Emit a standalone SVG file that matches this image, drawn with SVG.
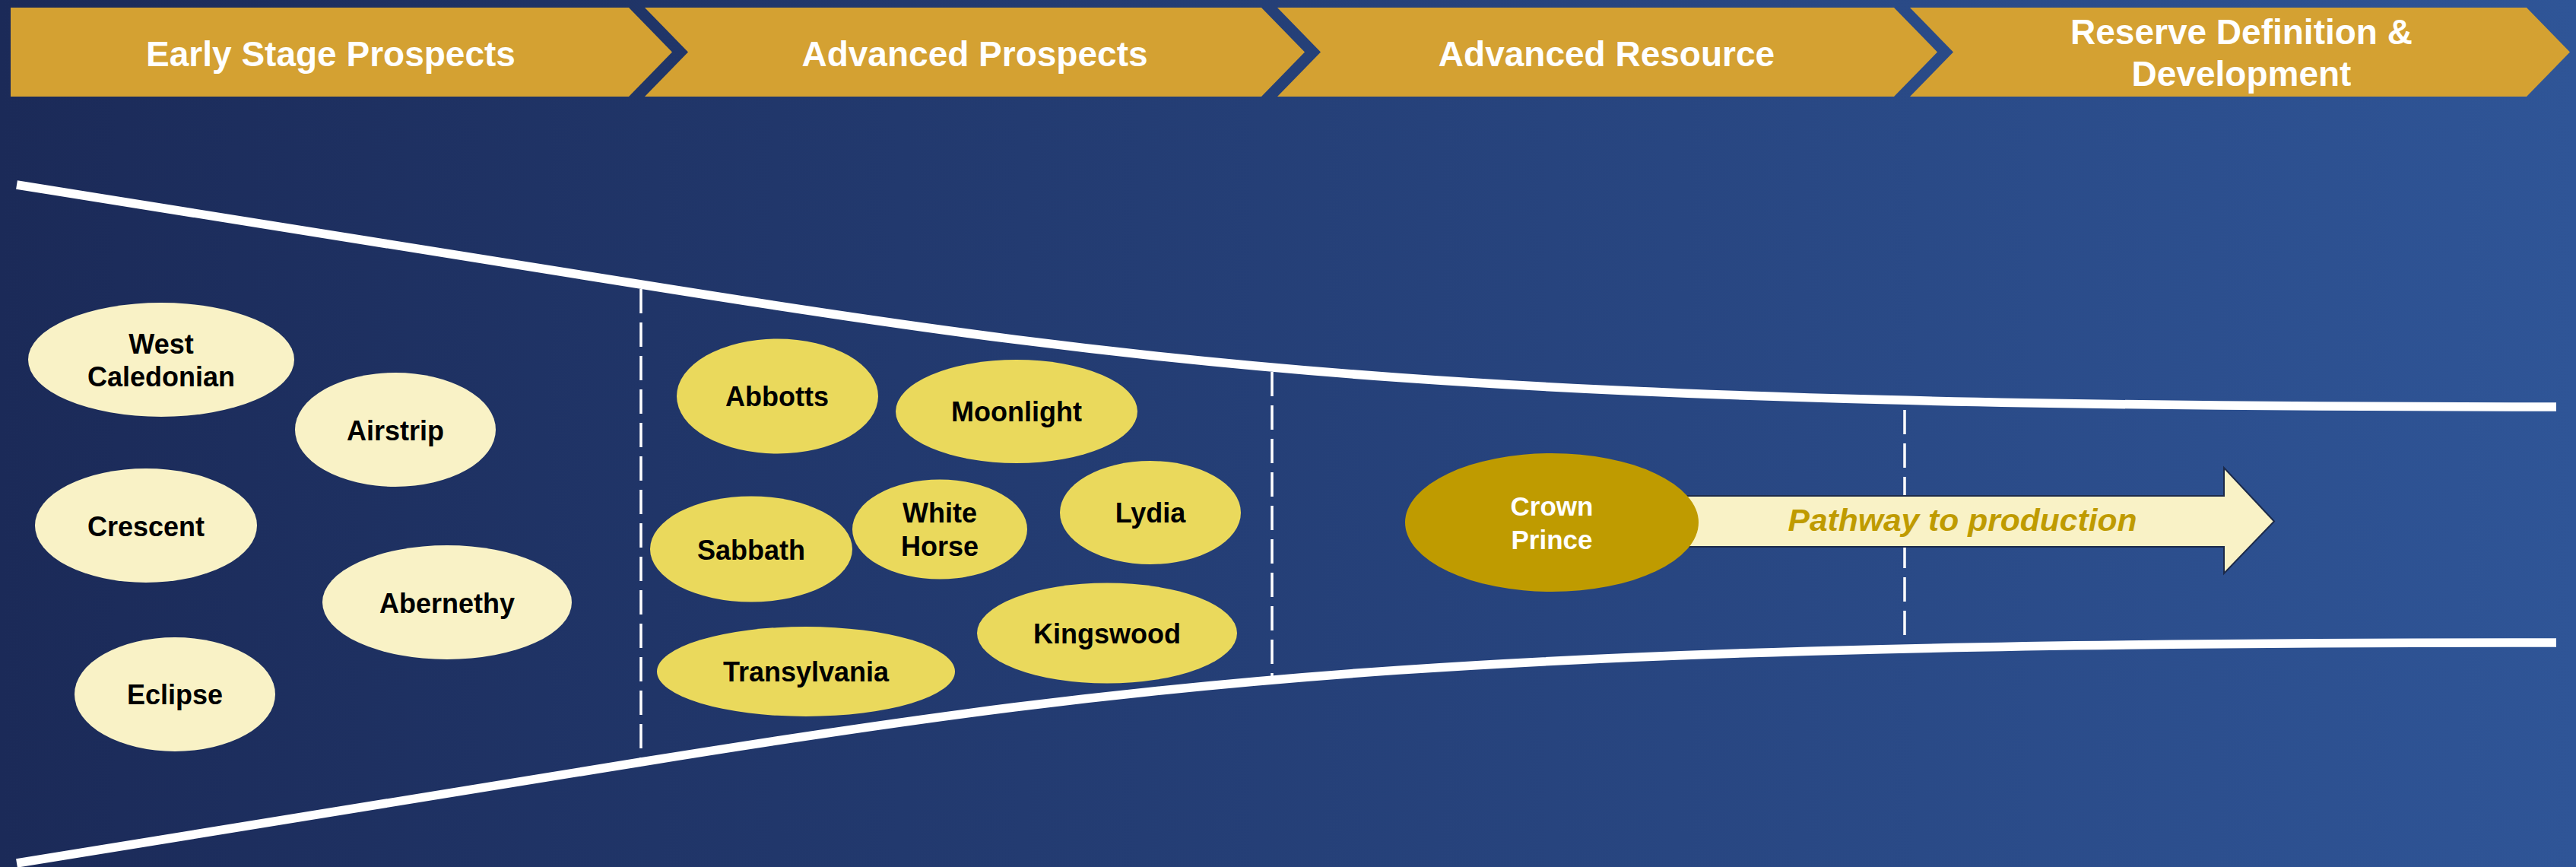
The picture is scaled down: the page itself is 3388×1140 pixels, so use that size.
<svg xmlns="http://www.w3.org/2000/svg" width="3388" height="1140" viewBox="0 0 3388 1140">
  <defs>
    <linearGradient id="bg" x1="0" y1="0" x2="1" y2="0">
      <stop offset="0" stop-color="#1B2A58"/>
      <stop offset="1" stop-color="#2F5597"/>
    </linearGradient>
  </defs>
  <style>
    .chev { fill: #D4A132; }
    .htxt { font-family: "Liberation Sans", Arial, sans-serif; font-weight: bold; font-size: 46px; fill: #FFFFFF; text-anchor: middle; }
    .funnel { fill: none; stroke: #FFFFFF; stroke-width: 11.5; }
    .dash { fill: none; stroke: #FFFFFF; stroke-width: 3.5; stroke-dasharray: 32 12; }
    .early { fill: #F9F2C6; }
    .adv { fill: #EAD95C; }
    .crown { fill: #BF9B00; }
    .ltxt { font-family: "Liberation Sans", Arial, sans-serif; font-weight: bold; font-size: 36px; fill: #000000; text-anchor: middle; }
    .ctxt { font-family: "Liberation Sans", Arial, sans-serif; font-weight: bold; font-size: 35px; fill: #FFFFFF; text-anchor: middle; }
    .arrow { fill: #F9F2C6; stroke: #1C2A4A; stroke-width: 2; }
    .ptxt { font-family: "Liberation Sans", Arial, sans-serif; font-weight: bold; font-style: italic; font-size: 41px; fill: #BF9B00; text-anchor: middle; }
  </style>

  <rect x="0" y="0" width="3388" height="1140" fill="url(#bg)"/>

  <g id="stages">
    <g id="stage-early">
      <path class="chev" d="M14,10 L827,10 L884,68.5 L827,127 L14,127 Z"/>
      <text class="htxt" x="435" y="87">Early Stage Prospects</text>
    </g>
    <g id="stage-advanced-prospects">
      <path class="chev" d="M848,10 L1659,10 L1716,68.5 L1659,127 L848,127 L905,68.5 Z"/>
      <text class="htxt" x="1282" y="87">Advanced Prospects</text>
    </g>
    <g id="stage-advanced-resource">
      <path class="chev" d="M1680,10 L2491,10 L2548,68.5 L2491,127 L1680,127 L1737,68.5 Z"/>
      <text class="htxt" x="2113" y="87">Advanced Resource</text>
    </g>
    <g id="stage-reserve">
      <path class="chev" d="M2512,10 L3323,10 L3380,68.5 L3323,127 L2512,127 L2569,68.5 Z"/>
      <text class="htxt" x="2948" y="58">Reserve Definition &amp;</text>
      <text class="htxt" x="2948" y="113">Development</text>
    </g>
  </g>

  <g id="funnel">
    <path class="funnel" d="M22,243 L843,374 C1543,486 1962,535 3362,535"/>
    <path class="funnel" d="M22,1135 L843,1002 C1543,889 1962,845 3362,845"/>
    <path class="dash" d="M843,380 L843,997"/>
    <path class="dash" d="M1673,489 L1673,889"/>
    <path class="dash" d="M2505,539 L2505,840"/>
  </g>

  <g id="connectors">
    <path class="arrow" d="M2200,652 L2925,652 L2925,615 L2991,685.5 L2925,754 L2925,719 L2200,719 Z"/>
    <text class="ptxt" x="2581" y="698" textLength="459" lengthAdjust="spacingAndGlyphs">Pathway to production</text>
  </g>

  <g id="node-west-caledonian">
    <ellipse class="early" cx="212" cy="473" rx="175" ry="75"/>
    <text class="ltxt" x="212" y="465">West</text>
    <text class="ltxt" x="212" y="508">Caledonian</text>
  </g>
  <g id="node-airstrip">
    <ellipse class="early" cx="520" cy="565" rx="132" ry="75"/>
    <text class="ltxt" x="520" y="579">Airstrip</text>
  </g>
  <g id="node-crescent">
    <ellipse class="early" cx="192" cy="691" rx="146" ry="75"/>
    <text class="ltxt" x="192" y="705">Crescent</text>
  </g>
  <g id="node-abernethy">
    <ellipse class="early" cx="588" cy="792" rx="164" ry="75"/>
    <text class="ltxt" x="588" y="806">Abernethy</text>
  </g>
  <g id="node-eclipse">
    <ellipse class="early" cx="230" cy="913" rx="132" ry="75"/>
    <text class="ltxt" x="230" y="926">Eclipse</text>
  </g>

  <g id="node-abbotts">
    <ellipse class="adv" cx="1022.5" cy="521" rx="132.5" ry="75.5"/>
    <text class="ltxt" x="1022" y="534">Abbotts</text>
  </g>
  <g id="node-moonlight">
    <ellipse class="adv" cx="1337" cy="541" rx="159" ry="68"/>
    <text class="ltxt" x="1337" y="554">Moonlight</text>
  </g>
  <g id="node-sabbath">
    <ellipse class="adv" cx="988" cy="722" rx="133" ry="69.5"/>
    <text class="ltxt" x="988" y="736">Sabbath</text>
  </g>
  <g id="node-white-horse">
    <ellipse class="adv" cx="1236" cy="696" rx="115" ry="65.5"/>
    <text class="ltxt" x="1236" y="687">White</text>
    <text class="ltxt" x="1236" y="731">Horse</text>
  </g>
  <g id="node-lydia">
    <ellipse class="adv" cx="1513" cy="674" rx="119" ry="68"/>
    <text class="ltxt" x="1513" y="687">Lydia</text>
  </g>
  <g id="node-kingswood">
    <ellipse class="adv" cx="1456" cy="832.5" rx="171" ry="66"/>
    <text class="ltxt" x="1456" y="846">Kingswood</text>
  </g>
  <g id="node-transylvania">
    <ellipse class="adv" cx="1060" cy="883" rx="196" ry="59"/>
    <text class="ltxt" x="1060" y="896">Transylvania</text>
  </g>

  <g id="node-crown-prince">
    <ellipse class="crown" cx="2041" cy="687" rx="193" ry="91"/>
    <text class="ctxt" x="2041" y="678">Crown</text>
    <text class="ctxt" x="2041" y="722">Prince</text>
  </g>
</svg>
